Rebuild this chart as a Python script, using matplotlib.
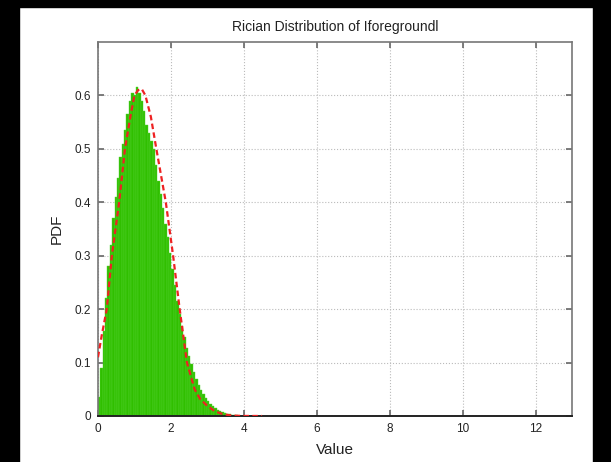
import numpy as np
import matplotlib.pyplot as plt
from matplotlib.patches import Rectangle

# histogram: equal width bins starting at 0
bin_width = 0.065
hist_heights = [0.035, 0.09, 0.16, 0.22, 0.28, 0.32, 0.37, 0.41, 0.445, 0.485,
                0.51, 0.535, 0.565, 0.59, 0.605, 0.60, 0.615, 0.605, 0.59, 0.57,
                0.545, 0.53, 0.515, 0.50, 0.47, 0.44, 0.415, 0.39, 0.36, 0.335,
                0.305, 0.275, 0.245, 0.215, 0.19, 0.168, 0.148, 0.128, 0.112, 0.097,
                0.082, 0.07, 0.058, 0.048, 0.041, 0.034, 0.028, 0.023, 0.019, 0.015,
                0.012, 0.009, 0.007, 0.005, 0.004, 0.003, 0.002, 0.0015, 0.001, 0.0007,
                0.0005, 0.0003, 0.0002]

# fitted rician pdf
fit_x = [0.0, 0.1, 0.24, 0.38, 0.58, 0.74, 0.9, 1.0, 1.1, 1.2, 1.3, 1.45, 1.6,
         1.86, 2.06, 2.24, 2.44, 2.65, 2.8, 2.98, 3.2, 3.4, 3.6, 3.8, 4.0, 4.5]
fit_y = [0.11, 0.15, 0.20, 0.30, 0.40, 0.50, 0.565, 0.60, 0.61, 0.612, 0.60, 0.56, 0.50,
         0.40, 0.30, 0.20, 0.10, 0.05, 0.032, 0.02, 0.009, 0.004, 0.0015, 0.0005, 0.0001, 0.0]

plt.rcParams['font.family'] = ['Liberation Sans', 'DejaVu Sans']

fig = plt.figure(figsize=(6.11, 4.62), dpi=100)
ax = fig.add_axes([98/611, 46/462, 474/611, 374/462])

lefts = np.arange(len(hist_heights)) * bin_width
ax.bar(lefts, hist_heights, width=bin_width, align='edge',
       color='#30bf00', edgecolor='#55d633', linewidth=0.3, zorder=2)
ax.plot(fit_x, fit_y, color='#ee2222', linewidth=1.6, dashes=(2.5, 1.5), zorder=3)

ax.set_xlim(0, 13)
ax.set_ylim(0, 0.7)
ax.set_xticks(range(0, 13, 2))
ax.set_yticks([0, 0.1, 0.2, 0.3, 0.4, 0.5, 0.6])
ax.set_yticklabels(['0', '0.1', '0.2', '0.3', '0.4', '0.5', '0.6'])
ax.tick_params(direction='in', top=True, right=True, length=4, width=1.2,
               labelsize=8.5, colors='#666666', labelcolor='#222222', pad=5)
ax.grid(True, linestyle=':', color='#bbbbbb', linewidth=0.8, zorder=0)
ax.set_axisbelow(True)
for side in ['left', 'right', 'top']:
    ax.spines[side].set_color('#777777')
    ax.spines[side].set_linewidth(1.2)
ax.spines['bottom'].set_color('#222222')
ax.spines['bottom'].set_linewidth(1.4)

ax.set_title('Rician Distribution of Iforegroundl', fontsize=10, color='#222222', pad=8)
ax.set_xlabel('Value', fontsize=11, color='#222222', labelpad=6)
ax.set_ylabel('PDF', fontsize=11, color='#222222', labelpad=8)

# black borders around the screenshot
fig.patches.append(Rectangle((0, 0), 19/611, 1, transform=fig.transFigure, color='black'))
fig.patches.append(Rectangle((0, 1 - 7/462), 1, 7/462, transform=fig.transFigure, color='black'))
fig.patches.append(Rectangle((593/611, 0), 18/611, 1, transform=fig.transFigure, color='black'))

fig.savefig('out.png', dpi=100)
